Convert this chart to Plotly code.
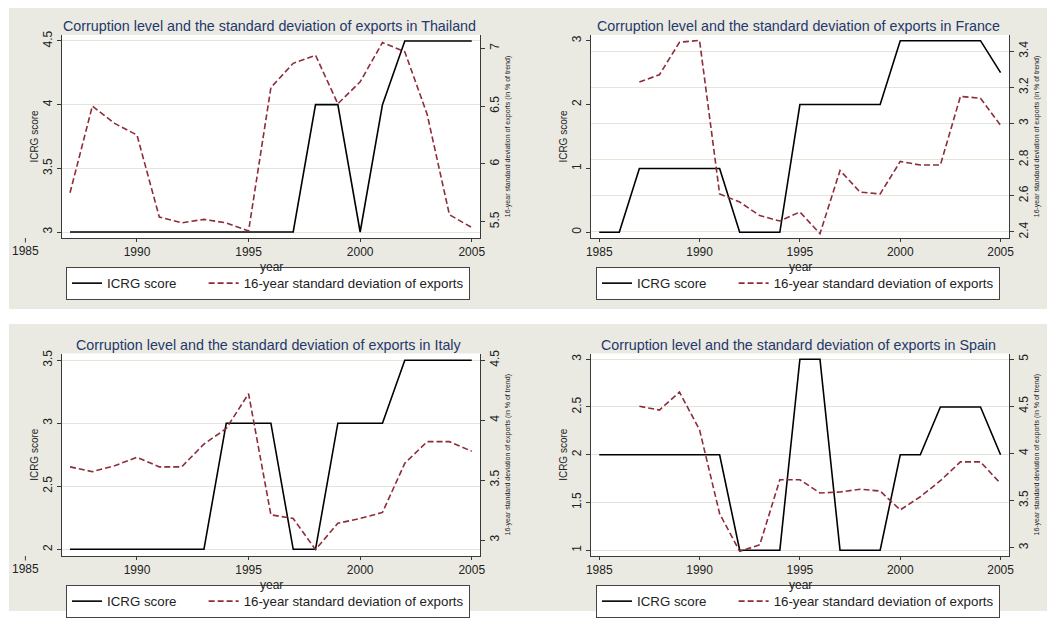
import plotly.graph_objects as go

W, H = 1055, 621
OFF = 8  # the page body adds an 8px margin around the figure

# years on the x axis
years_long = [1985, 1986, 1987, 1988, 1989, 1990, 1991, 1992, 1993, 1994, 1995,
              1996, 1997, 1998, 1999, 2000, 2001, 2002, 2003, 2004, 2005]
years_short = [1987, 1988, 1989, 1990, 1991, 1992, 1993, 1994, 1995,
               1996, 1997, 1998, 1999, 2000, 2001, 2002, 2003, 2004, 2005]

# Thailand
icrg_thailand = [3, 3, 3, 3, 3, 3, 3, 3, 3, 3, 3, 4, 4, 3, 4, 4.5, 4.5, 4.5, 4.5]
sd_thailand = [5.75, 6.50, 6.35, 6.25, 5.54, 5.49, 5.52, 5.49, 5.42, 6.66,
               6.87, 6.94, 6.52, 6.71, 7.05, 6.97, 6.43, 5.56, 5.45]

# France
icrg_france = [0, 0, 1, 1, 1, 1, 1, 0, 0, 0, 2, 2, 2, 2, 2, 3, 3, 3, 3, 3, 2.5]
sd_france = [3.23, 3.27, 3.45, 3.46, 2.61, 2.565, 2.49, 2.46, 2.51, 2.39,
             2.74, 2.62, 2.61, 2.79, 2.77, 2.77, 3.15, 3.14, 2.99]

# Italy
icrg_italy = [2, 2, 2, 2, 2, 2, 2, 3, 3, 3, 2, 2, 3, 3, 3, 3.5, 3.5, 3.5, 3.5]
sd_italy = [3.61, 3.57, 3.62, 3.69, 3.61, 3.61, 3.80, 3.93, 4.22, 3.21,
            3.18, 2.92, 3.14, 3.18, 3.23, 3.64, 3.82, 3.82, 3.74]

# Spain
icrg_spain = [2, 2, 2, 2, 2, 2, 2, 1, 1, 1, 3, 3, 1, 1, 1, 2, 2, 2.5, 2.5, 2.5, 2]
sd_spain = [4.50, 4.46, 4.65, 4.25, 3.36, 2.96, 3.03, 3.72, 3.72, 3.58,
            3.59, 3.62, 3.60, 3.40, 3.54, 3.71, 3.91, 3.91, 3.68]

# tick labels
xticks_short = [1990, 1995, 2000, 2005]
xticks_long = [1985, 1990, 1995, 2000, 2005]

# box = plot region in screen pixels (left, top, right, bottom), leg = legend box left
panels = [
    dict(country='Thailand', yi=years_short, icrg=icrg_thailand, sd=sd_thailand,
         box=(62, 35, 480, 238), leg=66, xr=[1986.64, 2005.37],
         yl=[2.953, 4.547], yr=[5.359, 7.115],
         lt=[3, 3.5, 4, 4.5], rt=[5.5, 6, 6.5, 7], grid='left', xt=xticks_short),
    dict(country='France', yi=years_long, icrg=icrg_france, sd=sd_france,
         box=(591, 35, 1009, 238), leg=596, xr=[1984.59, 2005.42],
         yl=[-0.089, 3.089], yr=[2.366, 3.49],
         lt=[0, 1, 2, 3], rt=[2.4, 2.6, 2.8, 3, 3.2, 3.4], grid='right', xt=xticks_long),
    dict(country='Italy', yi=years_short, icrg=icrg_italy, sd=sd_italy,
         box=(62, 353.5, 480, 556), leg=66, xr=[1986.64, 2005.37],
         yl=[1.947, 3.553], yr=[2.867, 4.555],
         lt=[2, 2.5, 3, 3.5], rt=[3, 3.5, 4, 4.5], grid='left', xt=xticks_short),
    dict(country='Spain', yi=years_long, icrg=icrg_spain, sd=sd_spain,
         box=(591, 353.5, 1009, 556), leg=596, xr=[1984.59, 2005.42],
         yl=[0.94, 3.06], yr=[2.911, 5.06],
         lt=[1, 1.5, 2, 2.5, 3], rt=[3, 3.5, 4, 4.5, 5], grid='left', xt=xticks_long),
]

FONT = 'Liberation Sans, Arial, sans-serif'
AXC = '#3a3a3a'
GRID = '#E4E4D8'
PANEL_BG = '#EAEAE2'
TITLE_C = '#24386b'
RED = '#8E2C3A'


def fx(px):
    return (px - OFF) / W


def fy(py):
    return 1 - (py - OFF) / H


fig = go.Figure()
shapes = [
    dict(type='rect', xref='paper', yref='paper', x0=fx(9), x1=1, y0=fy(309), y1=fy(5),
         fillcolor=PANEL_BG, line=dict(width=0), layer='below'),
    dict(type='rect', xref='paper', yref='paper', x0=fx(9), x1=1, y0=fy(611), y1=fy(324),
         fillcolor=PANEL_BG, line=dict(width=0), layer='below'),
]
annotations = []
layout = {}

for i, p in enumerate(panels):
    n = i + 1
    xid = 'x' if n == 1 else f'x{n}'
    ylid = 'y' if n == 1 else f'y{2 * n - 1}'
    yrid = f'y{2 * n}'
    l, t, r, b = p['box']
    leg = 'legend' if n == 1 else f'legend{n}'

    fig.add_trace(go.Scatter(x=p['yi'], y=p['icrg'], xaxis=xid, yaxis=ylid,
                             mode='lines', name='ICRG score' + '\u00a0' * 6, legend=leg,
                             line=dict(color='black', width=1.6)))
    fig.add_trace(go.Scatter(x=years_short, y=p['sd'], xaxis=xid, yaxis=yrid,
                             mode='lines', name='16-year standard deviation of exports', legend=leg,
                             line=dict(color=RED, width=1.6, dash='6px,3px')))

    xdom = [fx(l), fx(r)]
    ydom = [fy(b), fy(t)]

    layout['xaxis' if n == 1 else f'xaxis{n}'] = dict(
        domain=xdom, range=p['xr'], anchor=ylid, tickvals=p['xt'],
        showline=True, linecolor=AXC, linewidth=1, ticks='outside', ticklen=3,
        tickcolor=AXC, tickfont=dict(size=12, color='#222'), showgrid=False, zeroline=False)
    layout['yaxis' if n == 1 else f'yaxis{2 * n - 1}'] = dict(
        domain=ydom, range=p['yl'], anchor=xid, tickvals=p['lt'], tickangle=-90,
        showline=True, linecolor=AXC, linewidth=1, ticks='outside', ticklen=4,
        tickcolor=AXC, tickfont=dict(size=12, color='#222'), zeroline=False,
        showgrid=p['grid'] == 'left', gridcolor=GRID, gridwidth=1,
        title=dict(text='ICRG score', font=dict(size=10, color='#222'), standoff=0))
    layout[f'yaxis{2 * n}'] = dict(
        overlaying=ylid, side='right', anchor=xid, range=p['yr'], tickvals=p['rt'],
        tickangle=-90, showline=True, linecolor=AXC, linewidth=1, ticks='outside', ticklen=4,
        tickcolor=AXC, tickfont=dict(size=12, color='#222'), zeroline=False,
        showgrid=p['grid'] == 'right', gridcolor=GRID, gridwidth=1,
        title=dict(text='16-year standard deviation of exports (in % of trend)',
                   font=dict(size=7, color='#222'), standoff=3))

    # white plot region
    shapes.append(dict(type='rect', xref=f'{xid} domain', yref=f'{ylid} domain',
                       x0=0, x1=1, y0=0, y1=1, fillcolor='white',
                       line=dict(width=0), layer='below'))

    annotations.append(dict(
        text=f'Corruption level and the standard deviation of exports in {p["country"]}',
        xref='paper', yref='paper', x=fx((l + r) / 2 - 2), y=fy(t - 9), yanchor='middle',
        xanchor='center', showarrow=False, font=dict(size=14.3, color=TITLE_C)))

    # x axis title sits close under the tick labels, as in Stata
    annotations.append(dict(
        text='year', xref='paper', yref='paper', x=fx((l + r) / 2), y=fy(b + 20.5),
        xanchor='center', yanchor='top', showarrow=False, borderpad=0,
        font=dict(size=12, color='#222')))

    # Stata puts the 1985 label outside the plot region when data start in 1987
    if p['xt'][0] != 1985:
        xr0, xr1 = p['xr']
        xp = fx(l + (1985 - xr0) / (xr1 - xr0) * (r - l))
        annotations.append(dict(
            text='1985', xref='paper', yref='paper', x=xp, y=fy(b),
            showarrow=True, arrowhead=0, arrowwidth=1, arrowcolor=AXC, ax=0, ay=13,
            font=dict(size=12, color='#222')))

    layout[leg] = dict(
        orientation='h', x=fx(p['leg']), xanchor='left',
        y=fy(b + 45.5), yanchor='middle',
        bgcolor='white', bordercolor='#444', borderwidth=1,
        font=dict(size=13.3, color='#222'))

fig.update_layout(**layout)
fig.update_layout(
    width=W, height=H,
    margin=dict(l=0, r=0, t=0, b=0, autoexpand=False),
    paper_bgcolor='white', plot_bgcolor='rgba(0,0,0,0)',
    font=dict(family=FONT, color='#222'),
    shapes=shapes, annotations=annotations,
)

fig.write_html('out.html')
